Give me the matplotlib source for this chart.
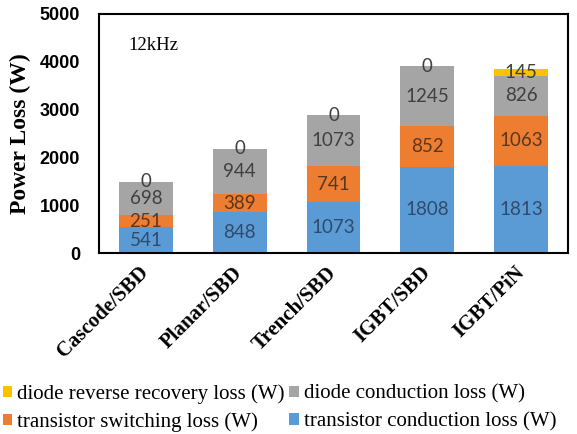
import matplotlib
matplotlib.use("Agg")
import matplotlib.pyplot as plt
from matplotlib.patches import Patch
import numpy as np

categories = ["Cascode/SBD", "Planar/SBD", "Trench/SBD", "IGBT/SBD", "IGBT/PiN"]
transistor_conduction = [541, 848, 1073, 1808, 1813]
transistor_switching = [251, 389, 741, 852, 1063]
diode_conduction = [698, 944, 1073, 1245, 826]
diode_reverse_recovery = [0, 0, 0, 0, 145]
y_ticks = [0, 1000, 2000, 3000, 4000, 5000]

series = [
    ("transistor conduction loss (W)", transistor_conduction, "#5B9BD5", "#2F4B6B"),
    ("transistor switching loss (W)", transistor_switching, "#ED7D31", "#5A3820"),
    ("diode conduction loss (W)", diode_conduction, "#A5A5A5", "#404040"),
    ("diode reverse recovery loss (W)", diode_reverse_recovery, "#FFC000", "#404040"),
]

fig = plt.figure(figsize=(5.77, 4.34), dpi=100)
ax = fig.add_axes([99/577, 1-253/434, 469/577, 239/434])

x = np.arange(len(categories))
bottom = np.zeros(len(categories))
handles = {}
for name, vals, col, tcol in series:
    vals = np.array(vals, dtype=float)
    ax.bar(x, vals, width=0.575, bottom=bottom, color=col, label=name)
    for xi, b, v in zip(x, bottom, vals):
        ax.text(xi, b + v/2, f"{int(v)}", ha="center", va="center",
                fontsize=13.5, family="Lato", color=tcol)
    bottom += vals
    handles[name] = Patch(facecolor=col)

ax.set_xlim(-0.5, len(categories)-0.5)
ax.set_ylim(0, 5000)
ax.set_yticks(y_ticks)
ax.set_yticklabels([str(t) for t in y_ticks], fontsize=13, fontweight="bold",
                   family="Liberation Sans")
ax.set_xticks(x)
ax.set_xticklabels(categories, rotation=45, ha="right", va="center",
                   rotation_mode="anchor", fontsize=15, fontweight="bold",
                   family="Liberation Serif")
ax.tick_params(axis="y", length=0, pad=13.5)
ax.tick_params(axis="x", length=0, pad=12)
for s in ax.spines.values():
    s.set_linewidth(1.5)
    s.set_color("black")

ax.set_ylabel("Power Loss (W)", fontsize=17, fontweight="bold",
              family="Liberation Serif")
ax.yaxis.set_label_coords(-0.145, 0.5)

ax.text(0.062, 0.87, "12kHz", transform=ax.transAxes, fontsize=13.5,
        family="Liberation Serif", va="center", ha="left")

order = ["diode reverse recovery loss (W)", "transistor switching loss (W)",
         "diode conduction loss (W)", "transistor conduction loss (W)"]
fig.legend([handles[n] for n in order], order, loc="upper left",
           bbox_to_anchor=(0.005, 0.115), ncol=2, frameon=False,
           prop={"family": "Liberation Serif", "size": 15},
           handlelength=0.45, handleheight=0.45, handletextpad=0.25,
           columnspacing=0.2, labelspacing=0.4, borderaxespad=0, borderpad=0)

fig.savefig("out.png", dpi=100)
